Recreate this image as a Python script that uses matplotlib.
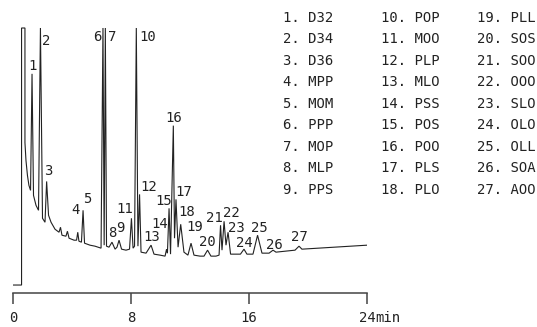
import numpy as np
import matplotlib
matplotlib.use("Agg")
import matplotlib.pyplot as plt

plt.rcParams['font.family'] = ['DejaVu Sans Mono', 'DejaVu Sans']

# valley / baseline knots of the trace (minutes, detector signal)
base_t = [0.00, 0.58, 0.58, 0.81, 0.81, 0.88, 0.98, 1.08, 1.19, 1.39, 1.56, 1.73,
          2.00, 2.17, 2.41, 2.58, 2.85, 3.12, 3.32, 3.59, 3.80, 4.14, 4.31, 4.47,
          4.64, 4.85, 5.22, 5.56, 5.97, 6.18, 6.34, 6.51, 6.92, 7.05, 7.36, 7.66,
          7.90, 8.14, 8.24, 8.47, 8.68, 9.02, 9.56, 9.97, 10.31, 10.47, 10.68, 10.95,
          11.19, 11.59, 11.86, 12.27, 12.68, 12.95, 13.42, 13.76, 13.97, 14.17, 14.44,
          14.75, 15.08, 15.42, 15.86, 16.27, 16.88, 17.36, 17.83, 19.12, 19.59, 24.00]
base_s = [0, 0, 258, 258, 143, 125, 110, 100, 95, 90, 80, 75,
          67, 63, 70, 63, 56, 53, 50, 49, 47, 45, 45, 44,
          43, 42, 40, 39, 37, 40, 39, 38, 36, 38, 36, 35,
          36, 37, 39, 39, 33, 32, 31, 30, 29, 32, 31, 47,
          38, 33, 30, 30, 29, 29, 29, 29, 30, 35, 40,
          31, 31, 31, 31, 31, 32, 32, 33, 35, 36, 40]

# labelled peaks 1..27 (retention time, apex signal; 258 = off scale)
peak_t = [1.29, 1.86, 2.28, 4.39, 4.75, 6.10, 6.26, 6.71, 7.19, 8.36,
          8.03, 8.58, 9.36, 10.41, 10.58, 10.87, 11.05, 11.37, 12.07, 13.19,
          14.07, 14.31, 14.58, 15.66, 16.58, 17.63, 19.39]
peak_s = [212, 258, 104, 53, 75, 258, 258, 43, 45, 258,
          67, 91, 40, 36, 77, 160, 86, 61, 42, 35,
          60, 64, 53, 36, 50, 35, 39]
peak_names = ["D32", "D34", "D36", "MPP", "MOM", "PPP", "MOP", "MLP", "PPS",
              "POP", "MOO", "PLP", "MLO", "PSS", "POS", "POO", "PLS", "PLO",
              "PLL", "SOS", "SOO", "OOO", "SLO", "OLO", "OLL", "SOA", "AOO"]

# small unlabelled peaks
minor_t = [3.22, 3.69]
minor_s = [58, 54]

# label offsets from apex, in pixels (right, up)
label_off = [(0, 8), (5.5, -13), (1.3, 10), (-2, 22), (4, 11), (-6, -9), (6.7, -9),
             (0, 9), (1, 12), (11.7, -9), (-6.5, 9), (9.5, 7), (1, 8), (-6.5, 25),
             (-5, 7), (0, 8), (8, 7), (6.3, 12), (4, 16), (0, 8), (-6.5, 7),
             (7, 8), (8.5, 4), (0, 6), (1.5, 7), (1, 5), (0, 9)]

t_all = np.array(base_t + peak_t + minor_t)
s_all = np.array(base_s + peak_s + minor_s)
order = np.argsort(t_all, kind='stable')

W, H = 537, 327
fig = plt.figure(figsize=(W / 100, H / 100), dpi=100)
ax = fig.add_axes([13 / W, 1 - 293 / H, 354 / W, 266 / H])

ink = '#222222'
ax.plot(t_all[order], s_all[order], color=ink, lw=0.8, solid_joinstyle='miter')

fs = 10
for i, (t, s) in enumerate(zip(peak_t, peak_s)):
    dx, dy = label_off[i]
    ax.annotate(str(i + 1), xy=(t, s), xytext=(dx * 0.72, dy * 0.72),
                textcoords='offset points', ha='center', va='center',
                fontsize=fs, color=ink)

ax.set_xlim(0, 24)
ax.set_ylim(-8, 259)
for side in ['left', 'right', 'top']:
    ax.spines[side].set_visible(False)
ax.spines['bottom'].set_color('#444444')
ax.spines['bottom'].set_linewidth(1.1)
ax.set_yticks([])
ax.set_xticks([0, 8, 16, 24])
ax.set_xticklabels(["0", "8", "16", "24"])
ax.tick_params(axis='x', direction='out', length=8, width=1.1, color='#444444',
               pad=5, labelsize=fs, labelcolor=ink)
fig.text(375 / W, 1 - 318 / H, "min", fontsize=fs, color=ink, ha='left', va='center')

# legend columns
col_x = [283, 381, 477]
for i, name in enumerate(peak_names):
    c, r = divmod(i, 9)
    fig.text(col_x[c] / W, 1 - (18 + 21.45 * r) / H, f"{i + 1}. {name}",
             fontsize=fs, color=ink, ha='left', va='center')

fig.savefig("out.png", dpi=100)
